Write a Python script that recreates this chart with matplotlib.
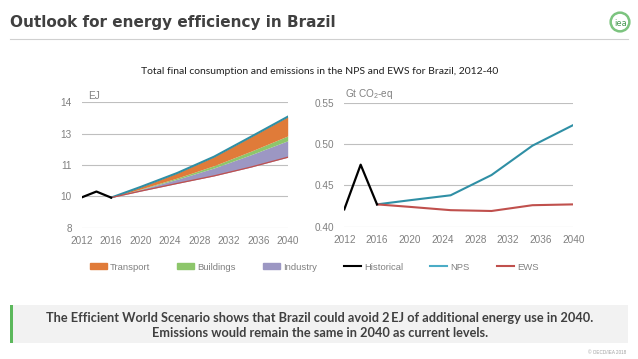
import numpy as np
import matplotlib
matplotlib.use('Agg')
import matplotlib.pyplot as plt
from matplotlib.patches import Patch, Rectangle, Circle
from matplotlib.lines import Line2D

# ── data ──
hist_years = [2012, 2014, 2016]
tfc_hist = [9.45, 9.73, 9.44]
em_hist = [0.421, 0.475, 0.427]

proj_years = [2016, 2020, 2025, 2030, 2035, 2040]
tfc_ews = [9.44, 9.75, 10.12, 10.48, 10.90, 11.37]
save_industry = [0.0, 0.08, 0.20, 0.38, 0.59, 0.79]
save_buildings = [0.0, 0.02, 0.06, 0.11, 0.17, 0.23]
save_transport = [0.0, 0.10, 0.24, 0.43, 0.69, 0.92]

em_nps = [0.427, 0.432, 0.438, 0.4625, 0.498, 0.523]
em_ews = [0.427, 0.424, 0.420, 0.419, 0.426, 0.427]

x_ticks = [2012, 2016, 2020, 2024, 2028, 2032, 2036, 2040]
tfc_ticks = [8, 9.5, 11, 12.5, 14]
tfc_tick_labels = ['8', '10', '11', '13', '14']
em_ticks = [0.40, 0.45, 0.50, 0.55]
em_tick_labels = ['0.40', '0.45', '0.50', '0.55']

C_TRANSPORT = '#e07b39'
C_BUILDINGS = '#8dc66b'
C_INDUSTRY = '#9c97c3'
C_NPS = '#2f8fa5'
C_NPS_LEG = '#4bacc6'
C_EWS = '#c0504d'
C_TICK = '#808080'
C_GRID = '#bfbfbf'

plt.rcParams['font.family'] = ['Liberation Sans', 'DejaVu Sans']
plt.rcParams['mathtext.fontset'] = 'custom'
plt.rcParams['mathtext.rm'] = 'Liberation Sans'

W, H = 638, 359
fig = plt.figure(figsize=(W / 100, H / 100), dpi=100)


def px_axes(x0, y0, x1, y1):
    """pixel box (top-left origin) -> fig.add_axes rect"""
    return [x0 / W, 1 - y1 / H, (x1 - x0) / W, (y1 - y0) / H]


def style_axes(ax, yticks, ylabels):
    ax.set_xlim(2012, 2040)
    ax.set_xticks(x_ticks)
    ax.set_yticks(yticks)
    ax.set_yticklabels(ylabels)
    ax.set_ylim(yticks[0], yticks[-1])
    for s in ax.spines.values():
        s.set_visible(False)
    ax.grid(axis='y', color=C_GRID, lw=0.8)
    ax.set_axisbelow(True)
    ax.tick_params(length=0, labelsize=7.2, colors=C_TICK)
    ax.tick_params(axis='x', pad=6)
    ax.tick_params(axis='y', pad=7)


# ── header ──
fig.text(10 / W, 1 - 22 / H, 'Outlook for energy efficiency in Brazil',
         fontsize=11, fontweight='bold', color='#404040',
         family='DejaVu Sans', va='center', ha='left')
fig.add_artist(Line2D([10 / W, 628 / W], [1 - 39 / H, 1 - 39 / H],
                      color='#d0d0d0', lw=0.8))
ax_logo = fig.add_axes(px_axes(609, 11, 631, 33))
ax_logo.set_xlim(-1, 1); ax_logo.set_ylim(-1, 1)
ax_logo.set_aspect('equal'); ax_logo.axis('off')
ax_logo.add_patch(Circle((0, 0), 0.85, fill=False, ec='#7cc47f', lw=1.8))
ax_logo.text(0.05, -0.1, 'iea', ha='center', va='center', fontsize=6,
             color='#4a9a55', family='DejaVu Sans')

fig.text(320 / W, 1 - 72 / H,
         'Total final consumption and emissions in the NPS and EWS for Brazil, 2012-40',
         fontsize=7.5, color='#202020', family='Lato', ha='center', va='center')

# ── left: total final consumption ──
ax1 = fig.add_axes(px_axes(81.7, 102.3, 287.7, 227.7))
style_axes(ax1, tfc_ticks, tfc_tick_labels)
ews = np.array(tfc_ews)
lvl1 = ews + np.array(save_industry)
lvl2 = lvl1 + np.array(save_buildings)
lvl3 = lvl2 + np.array(save_transport)
ax1.fill_between(proj_years, ews, lvl1, color=C_INDUSTRY, lw=0)
ax1.fill_between(proj_years, lvl1, lvl2, color=C_BUILDINGS, lw=0)
ax1.fill_between(proj_years, lvl2, lvl3, color=C_TRANSPORT, lw=0)
ax1.plot(proj_years, lvl3, color=C_NPS, lw=1.5)
ax1.plot(proj_years, ews, color=C_EWS, lw=0.9)
ax1.plot(hist_years, tfc_hist, color='black', lw=1.6)
ax1.text(0.03, 1.01, 'EJ', transform=ax1.transAxes, fontsize=7.2,
         color=C_TICK, va='bottom', ha='left')

# ── right: emissions ──
ax2 = fig.add_axes(px_axes(344.3, 102.7, 573.3, 226.7))
style_axes(ax2, em_ticks, em_tick_labels)
ax2.plot(proj_years, em_nps, color=C_NPS, lw=1.5)
ax2.plot(proj_years, em_ews, color=C_EWS, lw=1.5)
ax2.plot(hist_years, em_hist, color='black', lw=1.6)
ax2.text(0.005, 1.01, 'Gt CO$_2$-eq', transform=ax2.transAxes, fontsize=7.2,
         color=C_TICK, va='bottom', ha='left')

# ── legend ──
handles = [Patch(color=C_TRANSPORT), Patch(color=C_BUILDINGS),
           Patch(color=C_INDUSTRY),
           Line2D([], [], color='black', lw=1.5),
           Line2D([], [], color=C_NPS_LEG, lw=1.5),
           Line2D([], [], color=C_EWS, lw=1.5)]
labels = ['Transport', 'Buildings', 'Industry', 'Historical', 'NPS', 'EWS']
leg = fig.legend(handles, labels, loc='center', bbox_to_anchor=(314 / W, 1 - 267 / H),
                 ncol=6, frameon=False, fontsize=6.8, handlelength=1.8,
                 handleheight=0.6, handletextpad=0.3, columnspacing=2.9)
for t in leg.get_texts():
    t.set_color(C_TICK)

# ── bottom message box ──
fig.add_artist(Rectangle((10 / W, 1 - 343 / H), 618 / W, 38 / H,
                         transform=fig.transFigure, color='#f2f2f2', lw=0))
fig.add_artist(Rectangle((10 / W, 1 - 343 / H), 3 / W, 38 / H,
                         transform=fig.transFigure, color='#5cb85c', lw=0))
fig.text(320 / W, 1 - 318 / H,
         'The Efficient World Scenario shows that Brazil could avoid 2\u2009EJ of additional energy use in 2040.',
         fontsize=9.2, fontweight='bold', color='#404040', family='Lato',
         ha='center', va='center')
fig.text(320 / W, 1 - 333 / H,
         'Emissions would remain the same in 2040 as current levels.',
         fontsize=9.2, fontweight='bold', color='#404040', family='Lato',
         ha='center', va='center')
fig.text(626 / W, 1 - 352 / H, '\u00a9 OECD/IEA 2018', fontsize=3.3,
         color='#a0a0a0', ha='right', va='center')

fig.savefig('out.png', dpi=100)
